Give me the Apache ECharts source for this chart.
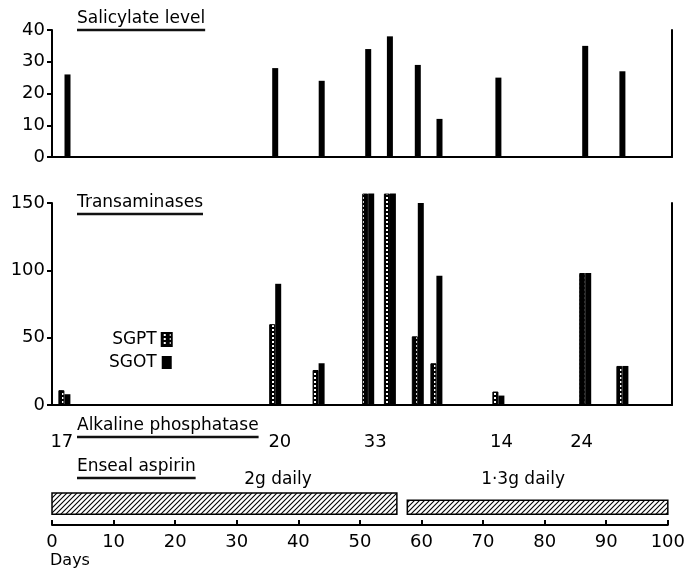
<!DOCTYPE html>
<html>
<head>
<meta charset="utf-8">
<script src="https://cdn.jsdelivr.net/npm/echarts@6/dist/echarts.min.js"></script>
<style>
  html, body { margin: 0; background: #fff; }
  #main { width: 688px; height: 569px; }
</style>
</head>
<body>
<div id="main"></div>
<script>
// data
const salDays = [2.5, 36, 43.5, 51, 54.5, 59, 62.5, 72, 86, 92];
const salicylate = [26, 28, 24, 34, 38, 29, 12, 25, 35, 27];
const transDays = [2, 36, 43, 51, 54.5, 59, 62, 72, 86, 92];
const sgpt = [11, 60, 26, 157, 157, 51, 31, 10, 98, 29];
const sgot = [8, 90, 31, 157, 157, 150, 96, 7, 98, 29];
const alkDays = [1.6, 37, 52.5, 73, 86];
const alkPhos = [17, 20, 33, 14, 24];
const aspirinStart = [0, 57.7];
const aspirinEnd = [56, 100];
const aspirinDose = ['2g daily', '1·3g daily'];
const doseDays = [36.7, 76.5];

const FONT = '"DejaVu Sans", sans-serif';

// diagonal hatch for the aspirin bars
function hatchPattern() {
  const c = document.createElement('canvas');
  c.width = 5; c.height = 5;
  const g = c.getContext('2d');
  g.fillStyle = '#fff'; g.fillRect(0, 0, 5, 5);
  g.strokeStyle = '#000'; g.lineWidth = 1.1;
  g.beginPath();
  g.moveTo(-1, 6); g.lineTo(6, -1);
  g.moveTo(-1, 1); g.lineTo(1, -1);
  g.moveTo(4, 6); g.lineTo(6, 4);
  g.stroke();
  return c;
}
// dotted fill for SGPT
function dotPattern() {
  const c = document.createElement('canvas');
  c.width = 6; c.height = 4;
  const g = c.getContext('2d');
  g.fillStyle = '#000'; g.fillRect(0, 0, 6, 4);
  g.fillStyle = '#fff'; g.fillRect(2, 1, 2, 2);
  return c;
}

function textWidth(txt, size) {
  const g = document.createElement('canvas').getContext('2d');
  g.font = size + 'px ' + FONT;
  return g.measureText(txt).width;
}

// underlined headings
function heading(txt, x, y) {
  const w = textWidth(txt, 17);
  return [
    { type: 'text', x: x, y: y, style: { text: txt, font: '17px ' + FONT, fill: '#000', verticalAlign: 'middle' } },
    { type: 'line', shape: { x1: x, y1: y + 11, x2: x + w, y2: y + 11 }, style: { stroke: '#111', lineWidth: 2.5 } }
  ];
}

const myChart = echarts.init(document.getElementById('main'));

const yLabel = { color: '#000', fontSize: 18, fontFamily: FONT, margin: 7 };
const axLine = { show: true, lineStyle: { color: '#000', width: 2 } };
const yTick = { show: true, length: 5, lineStyle: { color: '#000', width: 2 } };

const option = {
  animation: false,
  backgroundColor: '#fff',
  grid: [
    { left: 52, right: 16, top: 30, height: 127 },
    { left: 52, right: 16, top: 203, height: 202 },
    { left: 52, right: 15, top: 422, height: 103 }
  ],
  legend: {
    data: ['SGPT', 'SGOT'],
    orient: 'vertical',
    align: 'right',
    left: 104,
    top: 326,
    itemGap: 6,
    itemWidth: 10,
    itemHeight: 13,
    icon: 'rect',
    textStyle: { color: '#000', fontSize: 17, fontFamily: FONT }
  },
  xAxis: [
    { type: 'value', gridIndex: 0, min: 0, max: 100, axisLine: axLine, axisTick: { show: false }, axisLabel: { show: false }, splitLine: { show: false } },
    { type: 'value', gridIndex: 1, min: 0, max: 100, axisLine: axLine, axisTick: { show: false }, axisLabel: { show: false }, splitLine: { show: false } },
    {
      type: 'value', gridIndex: 2, min: 0, max: 100, interval: 10,
      axisLine: axLine,
      axisTick: { show: true, inside: true, length: 5, lineStyle: { color: '#000', width: 2 } },
      axisLabel: { color: '#000', fontSize: 18, fontFamily: FONT, margin: 8 },
      splitLine: { show: false }
    }
  ],
  yAxis: [
    { type: 'value', gridIndex: 0, min: 0, max: 40, interval: 10, axisLine: axLine, axisTick: yTick, axisLabel: yLabel, splitLine: { show: false } },
    { type: 'value', gridIndex: 0, position: 'right', min: 0, max: 40, axisLine: axLine, axisTick: { show: false }, axisLabel: { show: false }, splitLine: { show: false } },
    { type: 'value', gridIndex: 1, min: 0, max: 150, interval: 50, axisLine: axLine, axisTick: yTick, axisLabel: yLabel, splitLine: { show: false } },
    { type: 'value', gridIndex: 1, position: 'right', min: 0, max: 150, axisLine: axLine, axisTick: { show: false }, axisLabel: { show: false }, splitLine: { show: false } },
    { type: 'value', gridIndex: 2, min: 0, max: 10, show: false }
  ],
  series: [
    {
      name: 'Salicylate',
      type: 'bar',
      xAxisIndex: 0, yAxisIndex: 0,
      barWidth: 6,
      itemStyle: { color: '#000' },
      data: salDays.map((d, i) => [d, salicylate[i]])
    },
    {
      name: 'SGPT',
      type: 'bar',
      xAxisIndex: 1, yAxisIndex: 2,
      barWidth: 6, barGap: '0%',
      clip: false,
      itemStyle: { color: { image: dotPattern(), repeat: 'repeat' }, borderColor: '#000', borderWidth: 1 },
      data: transDays.map((d, i) => [d, sgpt[i]])
    },
    {
      name: 'SGOT',
      type: 'bar',
      xAxisIndex: 1, yAxisIndex: 2,
      barWidth: 6, barGap: '0%',
      clip: false,
      itemStyle: { color: '#000' },
      data: transDays.map((d, i) => [d, sgot[i]])
    },
    {
      name: 'Alkaline phosphatase',
      type: 'scatter',
      xAxisIndex: 2, yAxisIndex: 4,
      symbolSize: 0,
      itemStyle: { opacity: 1 },
      label: { show: true, position: 'inside', formatter: p => p.value[2], color: '#000', fontSize: 18, fontFamily: FONT },
      data: alkDays.map((d, i) => [d, 8, alkPhos[i]])
    },
    {
      name: 'Enseal aspirin',
      type: 'custom',
      xAxisIndex: 2, yAxisIndex: 4,
      renderItem: (params, api) => {
        const tops = [3.1, 2.4];
        const p0 = api.coord([api.value(0), tops[params.dataIndex]]);
        const p1 = api.coord([api.value(1), 1.05]);
        return {
          type: 'rect',
          shape: { x: p0[0], y: p0[1], width: p1[0] - p0[0], height: p1[1] - p0[1] },
          style: { fill: { image: hatchPattern(), repeat: 'repeat' }, stroke: '#000', lineWidth: 1.5 }
        };
      },
      data: aspirinStart.map((s, i) => [s, aspirinEnd[i]])
    },
    {
      name: 'Dose',
      type: 'scatter',
      xAxisIndex: 2, yAxisIndex: 4,
      symbolSize: 0,
      itemStyle: { opacity: 1 },
      label: { show: true, position: 'inside', formatter: p => p.value[2], color: '#000', fontSize: 17, fontFamily: FONT },
      data: doseDays.map((d, i) => [d, 4.4, aspirinDose[i]])
    }
  ],
  graphic: [
    ...heading('Salicylate level', 77, 19),
    ...heading('Transaminases', 77, 203),
    ...heading('Alkaline phosphatase', 77, 426),
    ...heading('Enseal aspirin', 77, 467),
    { type: 'text', x: 50, y: 561, style: { text: 'Days', font: '16px ' + FONT, fill: '#000', verticalAlign: 'middle' } }
  ]
};

myChart.setOption(option);
</script>
</body>
</html>
